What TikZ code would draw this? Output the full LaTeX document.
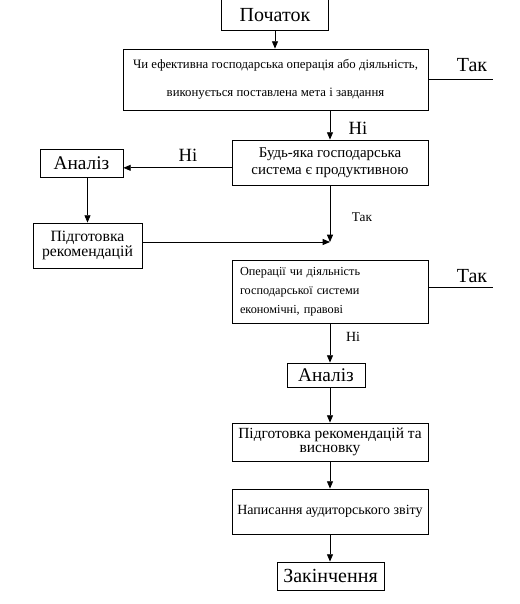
\documentclass[tikz,border=0pt]{standalone}
\usepackage{fontspec}
\setmainfont{Liberation Serif}
\usetikzlibrary{arrows.meta, positioning, calc}

\tikzset{
  box/.style={draw, line width=0.6pt, inner sep=2pt, align=center},
  arr/.style={-{Triangle[length=5.5pt,width=4.5pt]}, line width=0.6pt},
  ln/.style={line width=0.6pt},
  big/.style={font=\fontsize{15}{18}\selectfont}
}

\begin{document}
\begin{tikzpicture}[x=0.75pt, y=-0.75pt]
    \useasboundingbox (0,0) rectangle (520,604);

    % Start (open at the top)
    \node[big, minimum width=79.5pt, minimum height=22.5pt] (start) at (275,15) {Початок};
    \draw[ln] (start.north west) -- (start.south west) -- (start.south east) -- (start.north east);

    % Questions
    \node[box, inner sep=1pt, minimum width=228.75pt, minimum height=45.75pt, font=\fontsize{9.6}{21}\selectfont] (q1) at (275.5,79.5) {Чи ефективна господарська операція або діяльність,\\ виконується поставлена мета і завдання};
    \node[box, minimum width=147pt, minimum height=33.75pt, font=\fontsize{11.2}{12.75}\selectfont] (q2) at (330,162.5) {Будь-яка господарська\\ система є продуктивною};
    \node[box, text width=135pt, inner xsep=6pt, minimum height=47.25pt, align=left, font=\fontsize{9.2}{14.25}\selectfont] (q3) at (330,291.5) {Операції чи діяльність\\ господарської системи\\ економічні, правові};

    % Left branch
    \node[box, inner ysep=1pt, minimum width=62.25pt, minimum height=21pt, font=\fontsize{14.5}{17}\selectfont] (an1) at (81.5,163) {Аналіз};
    \node[box, minimum width=81.75pt, minimum height=33.75pt, font=\fontsize{11.8}{11.25}\selectfont] (rec1) at (87.5,245.5) {Підготовка\\ рекомендацій};

    % Main line
    \node[box, inner ysep=1pt, minimum width=58.5pt, minimum height=18pt, font=\fontsize{14.5}{17}\selectfont] (an2) at (326,375) {Аналіз};
    \node[box, minimum width=147pt, minimum height=28.5pt, font=\fontsize{11.6}{10.5}\selectfont] (rec2) at (330,442) {Підготовка рекомендацій та\\ висновку};
    \node[box, minimum width=147pt, minimum height=33.75pt, font=\fontsize{10.5}{12}\selectfont] (rep) at (330,511.5) {Написання аудиторського звіту};
    \node[box, big, inner ysep=1pt, minimum width=80.25pt, minimum height=21pt] (end) at (330.5,576) {Закінчення};

    % Connectors
    \coordinate (join) at (330,242);
    \coordinate (yes1) at (493,79.5);
    \coordinate (yes3) at (493,287);

    \draw[arr] (start.south) -- (start.south |- q1.north);
    \draw[arr] (q1.south -| q2.north) -- (q2.north);
    \draw[arr] ([yshift=-4pt]q2.west) -- ([yshift=-4pt]q2.west -| an1.east);
    \draw[arr] (an1.south -| rec1.north) -- (rec1.north);
    \draw[arr] (q2.south) -- (join);
    \draw[arr] (rec1.east |- join) -- (join);
    \draw[arr] (q3.south) -- (q3.south |- an2.north);
    \draw[arr] (an2.south -| rec2.north) -- (rec2.north);
    \draw[arr] (rec2.south) -- (rep.north);
    \draw[arr] (rep.south) -- (rep.south |- end.north);
    \draw[ln] (q1.east) -- (yes1);
    \draw[ln] (q3.east |- yes3) -- (yes3);

    % Labels
    \node[font=\fontsize{14}{16}\selectfont] (no1) at (358,128) {Ні};
    \node[font=\fontsize{14}{16}\selectfont] (no2) at (188,155) {Ні};
    \node[font=\fontsize{10}{12}\selectfont] (yes2) at (362,217) {Так};
    \node[font=\fontsize{10.5}{12}\selectfont] (no3) at (353,337) {Ні};
    \node[big] (yes1t) at (472,65) {Так};
    \node[big] (yes3t) at (472,276) {Так};

\end{tikzpicture}
\end{document}
